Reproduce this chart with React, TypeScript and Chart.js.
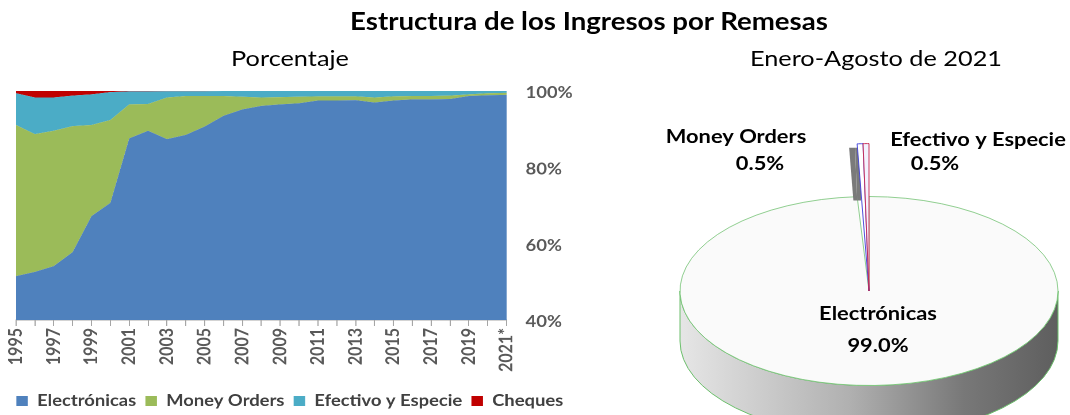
import React, { useEffect, useRef } from "react";
import { Chart, registerables } from "chart.js";

Chart.register(...registerables);

// ---------- data ----------
const YEARS = [
  "1995", "1996", "1997", "1998", "1999", "2000", "2001", "2002", "2003",
  "2004", "2005", "2006", "2007", "2008", "2009", "2010", "2011", "2012",
  "2013", "2014", "2015", "2016", "2017", "2018", "2019", "2020", "2021*",
];
const ELECTRONICAS = [
  51.5, 52.6, 54.1, 57.8, 67.2, 70.7, 87.6, 89.6, 87.4, 88.5, 90.7, 93.5,
  95.2, 96.1, 96.5, 96.8, 97.5, 97.5, 97.6, 97.0, 97.5, 97.8, 97.8, 97.9,
  98.7, 98.9, 99.0,
];
const MONEY_ORDERS = [
  39.6, 36.1, 35.5, 33.0, 23.9, 21.7, 8.9, 7.0, 10.9, 10.2, 8.0, 5.2,
  3.3, 2.2, 1.9, 1.7, 1.1, 1.1, 1.0, 1.3, 1.1, 0.9, 0.9, 0.9,
  0.4, 0.5, 0.5,
];
const EFECTIVO = [
  8.3, 9.6, 8.7, 8.0, 8.0, 7.3, 3.4, 3.3, 1.65, 1.25, 1.25, 1.3,
  1.5, 1.7, 1.6, 1.5, 1.4, 1.4, 1.4, 1.7, 1.4, 1.3, 1.3, 1.2,
  0.9, 0.6, 0.5,
];
const CHEQUES = [
  0.6, 1.7, 1.7, 1.2, 0.9, 0.3, 0.1, 0.1, 0.05, 0.05, 0.05, 0, 0, 0, 0,
  0, 0, 0, 0, 0, 0, 0, 0, 0, 0, 0, 0,
];
const SERIES_NAMES = ["Electrónicas", "Money Orders", "Efectivo y Especie", "Cheques"];
const Y_MIN = 40;
const Y_MAX = 100;
const Y_STEP = 20;

const PIE_LABELS = ["Electrónicas", "Money Orders", "Efectivo y Especie"];
const PIE_VALUES = [99.0, 0.5, 0.5];

// ---------- styles ----------
const FONT = "Lato, Carlito, 'Open Sans', sans-serif";
const COLORS = ["#4F81BD", "#9BBB59", "#4BACC6", "#C00000"];
const AXIS_TEXT = "#595959";
const SX = 1.15; // horizontal stretch of the original picture

const LEFT_W = 580 / SX;
const LEFT_H = 419;
const LEGEND_FONT = 16;
const LEGEND_PAD = 8;
const LEGEND_H = LEGEND_FONT + LEGEND_PAD + 10;

function AreaChart() {
  const ref = useRef<HTMLCanvasElement | null>(null);
  useEffect(() => {
    if (!ref.current) return;
    const series = [ELECTRONICAS, MONEY_ORDERS, EFECTIVO, CHEQUES];
    const chart = new Chart(ref.current, {
      type: "line",
      data: {
        labels: YEARS,
        datasets: series.map((d, i) => ({
          label: SERIES_NAMES[i],
          data: d,
          backgroundColor: COLORS[i],
          borderColor: COLORS[i],
          borderWidth: 0,
          pointRadius: 0,
          tension: 0,
          fill: i === 0 ? "origin" : "-1",
        })),
      },
      options: {
        animation: false,
        responsive: false,
        maintainAspectRatio: false,
        devicePixelRatio: 2,
        events: [],
        layout: { padding: { top: 91, left: 0, right: 0, bottom: 0 } },
        scales: {
          x: {
            offset: false,
            grid: {
              display: true,
              drawOnChartArea: false,
              drawTicks: true,
              tickLength: 6,
              color: "#a6a6a6",
            },
            border: { color: "#a6a6a6" },
            ticks: {
              autoSkip: false,
              minRotation: 90,
              maxRotation: 90,
              padding: 2,
              color: AXIS_TEXT,
              font: { family: FONT, size: 16, weight: "bold" },
              callback: (_v: any, i: number) => (i % 2 === 0 ? YEARS[i] : ""),
            },
            afterFit: (s: any) => {
              s.height = LEFT_H - LEGEND_H - 320;
              s.paddingLeft = 16 / SX;
            },
          },
          y: {
            stacked: true,
            position: "right",
            min: Y_MIN,
            max: Y_MAX,
            grid: { display: false, drawTicks: false },
            border: { display: false },
            ticks: {
              stepSize: Y_STEP,
              padding: 19 / SX,
              labelOffset: 2,
              color: AXIS_TEXT,
              font: { family: FONT, size: 16, weight: "bold" },
              callback: (v: any) => v + "%",
            },
            afterFit: (s: any) => {
              s.width = (580 - 507) / SX;
            },
          },
        },
        plugins: {
          legend: {
            position: "bottom",
            labels: {
              boxWidth: 10,
              boxHeight: 10,
              padding: LEGEND_PAD,
              color: "#404040",
              font: { family: FONT, size: LEGEND_FONT, weight: "bold" },
            },
          },
          tooltip: { enabled: false },
        },
      },
    });
    return () => chart.destroy();
  }, []);
  return (
    <div
      style={{
        position: "absolute",
        left: 0,
        top: 0,
        width: LEFT_W,
        height: LEFT_H,
        transform: `scaleX(${SX})`,
        transformOrigin: "0 0",
      }}
    >
      <canvas ref={ref} width={LEFT_W} height={LEFT_H} />
    </div>
  );
}

const TILT = 0.5; // vertical squash of the pie top face
const DEPTH = 50; // thickness of the pie
const WEDGE_TILT = 0.78;

const LABEL_POS = [
  { x: 878, y: 314, vx: 878, vy: 346 },
  { x: 736, y: 137, vx: 760, vy: 164 },
  { x: 978, y: 140, vx: 935, vy: 164 },
];

function PieChart() {
  const ref = useRef<HTMLCanvasElement | null>(null);
  useEffect(() => {
    if (!ref.current) return;
    const LEFT = 660;
    const pie3d = {
      id: "pie3d",
      beforeDatasetDraw(chart: any) {
        const ctx = chart.ctx as CanvasRenderingContext2D;
        const arcs = chart.getDatasetMeta(0).data;
        const big = arcs[0];
        const { x: cx, y: cy, outerRadius: r } = big.getProps(["x", "y", "outerRadius"], true);
        ctx.save();
        // side face
        const grad = ctx.createLinearGradient(cx - r, 0, cx + r, 0);
        grad.addColorStop(0, "#e6e6e6");
        grad.addColorStop(0.45, "#b0b0b0");
        grad.addColorStop(0.75, "#787878");
        grad.addColorStop(1, "#5e5e5e");
        ctx.beginPath();
        ctx.ellipse(cx, cy, r, r * TILT, 0, 0, Math.PI, false);
        ctx.lineTo(cx - r, cy + DEPTH);
        ctx.ellipse(cx, cy + DEPTH, r, r * TILT, 0, Math.PI, 0, true);
        ctx.closePath();
        ctx.fillStyle = grad;
        ctx.fill();
        ctx.strokeStyle = "#6cbf6c";
        ctx.lineWidth = 1;
        ctx.stroke();
        // top face of the big slice
        ctx.save();
        ctx.translate(cx, cy);
        ctx.scale(1, TILT);
        ctx.translate(-cx, -cy);
        big.draw(ctx);
        ctx.restore();
        // small exploded slices: side then top
        for (let i = 1; i < arcs.length; i++) {
          const a = arcs[i];
          const { startAngle, endAngle, outerRadius } = a.getProps(["startAngle", "endAngle", "outerRadius"], true);
          ctx.save();
          ctx.beginPath();
          ctx.rect(cx - 40, 0, 80, cy - r * TILT + 4);
          ctx.clip();
          ctx.translate(cx - 8, cy + 4);
          ctx.scale(1, WEDGE_TILT);
          ctx.translate(-cx, -cy);
          ctx.beginPath();
          ctx.moveTo(cx, cy);
          ctx.arc(cx, cy, outerRadius, startAngle, endAngle);
          ctx.closePath();
          ctx.fillStyle = "#7a7a7a";
          ctx.fill();
          ctx.restore();
        }
        for (let i = 1; i < arcs.length; i++) {
          ctx.save();
          ctx.translate(cx, cy);
          ctx.scale(1, WEDGE_TILT);
          ctx.translate(-cx, -cy);
          arcs[i].draw(ctx);
          ctx.restore();
        }
        ctx.restore();
        return false;
      },
      afterDatasetsDraw(chart: any) {
        const ctx = chart.ctx as CanvasRenderingContext2D;
        const values = chart.data.datasets[0].data as number[];
        const total = values.reduce((s, v) => s + v, 0);
        const put = (t: string, x: number, y: number) => {
          ctx.save();
          ctx.translate(x - LEFT, y);
          ctx.scale(SX, 1);
          ctx.fillText(t, 0, 0);
          ctx.restore();
        };
        ctx.save();
        ctx.fillStyle = "#000";
        ctx.font = `bold 19px ${FONT}`;
        ctx.textAlign = "center";
        ctx.textBaseline = "middle";
        chart.data.labels.forEach((lab: string, i: number) => {
          const p = LABEL_POS[i];
          put(lab, p.x, p.y);
          put(((values[i] / total) * 100).toFixed(1) + "%", p.vx, p.vy);
        });
        ctx.restore();
      },
    };
    const chart = new Chart(ref.current, {
      type: "pie",
      data: {
        labels: PIE_LABELS,
        datasets: [
          {
            data: PIE_VALUES,
            backgroundColor: ["#fafafa", "#ffffff", "#f2f2ff"],
            borderColor: ["#6cbf6c", "#3a3ad8", "#c4204c"],
            borderWidth: 1,
          },
        ],
      },
      options: {
        animation: false,
        responsive: false,
        maintainAspectRatio: false,
        events: [],
        radius: 189,
        layout: { padding: { left: 8, right: 0, top: 167, bottom: 0 } },
        plugins: { legend: { display: false }, tooltip: { enabled: false } },
      } as any,
      plugins: [pie3d],
    });
    return () => chart.destroy();
  }, []);
  return (
    <canvas
      ref={ref}
      width={410}
      height={415}
      style={{ position: "absolute", left: 660, top: 0, width: 410, height: 415 }}
    />
  );
}

function Label(props: { text: string; cx: number; top: number; size: number; bold?: boolean }) {
  return (
    <div
      style={{
        position: "absolute",
        left: props.cx - 300,
        width: 600,
        top: props.top,
        textAlign: "center",
        fontWeight: props.bold ? "bold" : "normal",
        fontSize: props.size,
        lineHeight: props.size * 1.2 + "px",
        color: "#000",
        whiteSpace: "nowrap",
        transform: `scaleX(${SX})`,
        transformOrigin: "50% 50%",
      }}
    >
      {props.text}
    </div>
  );
}

export default function App() {
  return (
    <div
      style={{
        position: "fixed",
        left: 0,
        top: 0,
        width: 1070,
        height: 415,
        overflow: "hidden",
        background: "#fff",
        fontFamily: FONT,
      }}
    >
      <AreaChart />
      <PieChart />
      <Label text="Estructura de los Ingresos por Remesas" cx={589} top={7} size={24} bold />
      <Label text="Porcentaje" cx={290} top={45} size={22} />
      <Label text="Enero-Agosto de 2021" cx={876} top={45} size={22} />
    </div>
  );
}
